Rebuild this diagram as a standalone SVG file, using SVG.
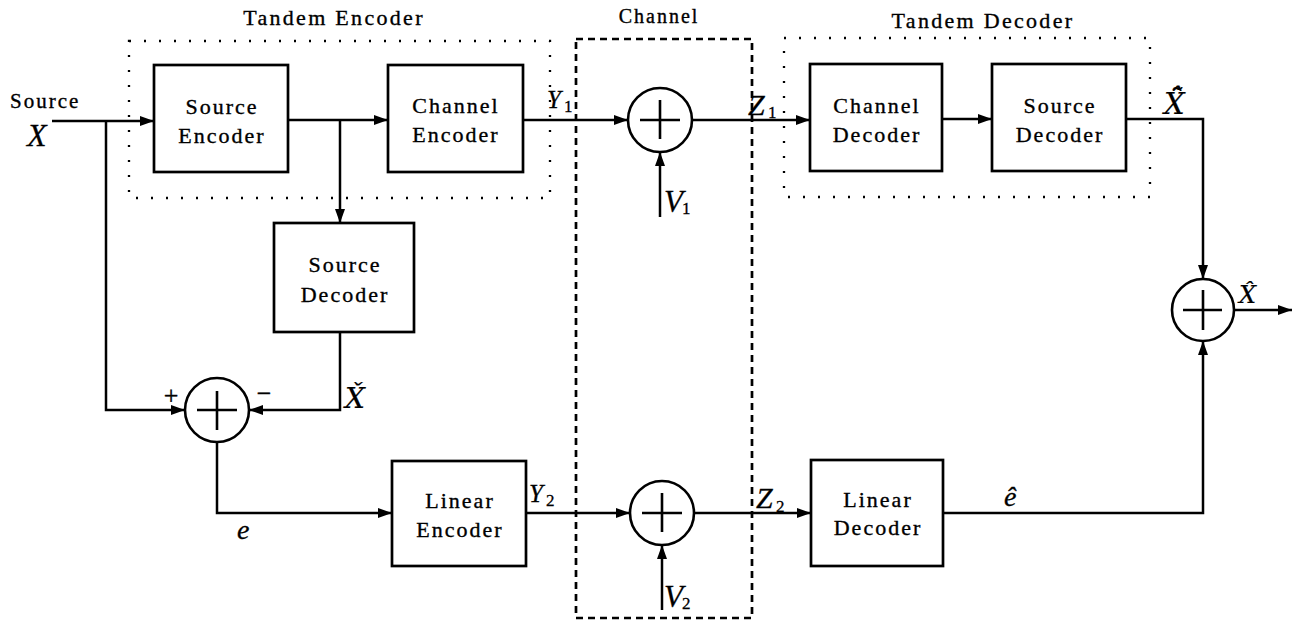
<svg xmlns="http://www.w3.org/2000/svg" width="1305" height="621" viewBox="0 0 1305 621">
<style>
.box{fill:#fff;stroke:#000;stroke-width:2.7}
.sum{fill:#fff;stroke:#000;stroke-width:2.6}
.plus{stroke:#000;stroke-width:2.6}
.wire{fill:none;stroke:#000;stroke-width:2.5}
.dot{fill:none;stroke:#000;stroke-width:2.3;stroke-dasharray:2 13}
.dash{fill:none;stroke:#000;stroke-width:2.7;stroke-dasharray:7 5}
.lbl{font-family:"Liberation Serif",serif;font-size:22px;letter-spacing:2px;fill:#000;stroke:#000;stroke-width:0.35;text-anchor:middle}
.ttl{font-family:"Liberation Serif",serif;font-size:22px;letter-spacing:2.3px;fill:#000;stroke:#000;stroke-width:0.35;text-anchor:middle}
.m{font-family:"Liberation Serif",serif;font-style:italic;fill:#000;stroke:#000;stroke-width:0.3}
.dj{font-family:"DejaVu Serif",serif;font-style:italic;fill:#000;stroke:#000;stroke-width:0.2}
.sub{font-family:"Liberation Serif",serif;fill:#000;stroke:#000;stroke-width:0.3;font-size:17px}
</style>
<defs>
<marker id="ah" markerUnits="userSpaceOnUse" markerWidth="14" markerHeight="10" refX="14" refY="5" orient="auto">
<path d="M0,0 L14,5 L0,10 z" fill="#000"/>
</marker>
</defs>
<rect width="1305" height="621" fill="#fff"/>

<g id="groups">
<rect class="dot" x="129" y="41" width="421" height="157"/>
<text class="ttl" x="334" y="25">Tandem Encoder</text>
<rect class="dot" x="784" y="38" width="366" height="159"/>
<text class="ttl" x="983" y="28">Tandem Decoder</text>
<rect class="dash" x="576" y="39" width="176" height="579"/>
<text class="lbl" x="659" y="23" style="font-size:20px">Channel</text>
</g>

<g id="connectors">
<polyline class="wire" points="52,121 154,121" marker-end="url(#ah)"/>
<polyline class="wire" points="106,121 106,410 185,410" marker-end="url(#ah)"/>
<polyline class="wire" points="288,120 388,120" marker-end="url(#ah)"/>
<polyline class="wire" points="340,120 340,223" marker-end="url(#ah)"/>
<polyline class="wire" points="340,332 340,410 249,410" marker-end="url(#ah)"/>
<polyline class="wire" points="523,120 628,120" marker-end="url(#ah)"/>
<polyline class="wire" points="692,120 810,120" marker-end="url(#ah)"/>
<polyline class="wire" points="942,119 992,119" marker-end="url(#ah)"/>
<polyline class="wire" points="1126,119 1203,119 1203,279" marker-end="url(#ah)"/>
<polyline class="wire" points="660,217 660,152" marker-end="url(#ah)"/>
<polyline class="wire" points="217,442 217,513 392,513" marker-end="url(#ah)"/>
<polyline class="wire" points="526,513 630,513" marker-end="url(#ah)"/>
<polyline class="wire" points="694,513 811,513" marker-end="url(#ah)"/>
<polyline class="wire" points="662,610 662,545" marker-end="url(#ah)"/>
<polyline class="wire" points="943,513 1203,513 1203,341" marker-end="url(#ah)"/>
<polyline class="wire" points="1234,310 1292,310" marker-end="url(#ah)"/>
</g>

<g id="source-encoder">
<rect class="box" x="154" y="65" width="134" height="107"/>
<text class="lbl" x="222" y="114">Source</text>
<text class="lbl" x="222" y="143">Encoder</text>
</g>
<g id="channel-encoder">
<rect class="box" x="388" y="65" width="135" height="107"/>
<text class="lbl" x="456" y="113">Channel</text>
<text class="lbl" x="456" y="142">Encoder</text>
</g>
<g id="source-decoder-mid">
<rect class="box" x="274" y="223" width="140" height="109"/>
<text class="lbl" x="345" y="272">Source</text>
<text class="lbl" x="345" y="302">Decoder</text>
</g>
<g id="channel-decoder">
<rect class="box" x="810" y="64" width="132" height="107"/>
<text class="lbl" x="877" y="113">Channel</text>
<text class="lbl" x="877" y="142">Decoder</text>
</g>
<g id="source-decoder">
<rect class="box" x="992" y="64" width="134" height="107"/>
<text class="lbl" x="1060" y="113">Source</text>
<text class="lbl" x="1060" y="142">Decoder</text>
</g>
<g id="linear-encoder">
<rect class="box" x="392" y="461" width="134" height="105"/>
<text class="lbl" x="460" y="508">Linear</text>
<text class="lbl" x="460" y="537">Encoder</text>
</g>
<g id="linear-decoder">
<rect class="box" x="811" y="460" width="132" height="106"/>
<text class="lbl" x="878" y="507">Linear</text>
<text class="lbl" x="878" y="535">Decoder</text>
</g>

<g id="adder-1">
<circle class="sum" cx="660" cy="120" r="32"/>
<line class="plus" x1="640" y1="120" x2="680" y2="120"/>
<line class="plus" x1="660" y1="100" x2="660" y2="139"/>
</g>
<g id="adder-2">
<circle class="sum" cx="662" cy="513" r="32"/>
<line class="plus" x1="642" y1="513" x2="682" y2="513"/>
<line class="plus" x1="662" y1="493" x2="662" y2="532"/>
</g>
<g id="subtractor">
<circle class="sum" cx="217" cy="410" r="32"/>
<line class="plus" x1="197" y1="410" x2="237" y2="410"/>
<line class="plus" x1="217" y1="391" x2="217" y2="430"/>
<text class="lbl" x="171" y="404" style="font-size:26px;letter-spacing:0">+</text>
<text class="lbl" x="264" y="402" style="font-size:26px;letter-spacing:0">−</text>
</g>
<g id="output-adder">
<circle class="sum" cx="1203" cy="310" r="31"/>
<line class="plus" x1="1183" y1="310" x2="1222" y2="310"/>
<line class="plus" x1="1203" y1="290" x2="1203" y2="330"/>
</g>

<g id="labels">
<text x="10" y="108" class="lbl" style="text-anchor:start;font-size:21px">Source</text>
<text class="m" x="27" y="146" font-size="32">X</text>
<text class="m" x="547" y="108" font-size="25">Y</text><text class="sub" x="564" y="112">1</text>
<text class="m" x="748" y="115" font-size="30">Z</text><text class="sub" x="768" y="118">1</text>
<text class="m" x="664" y="212" font-size="31">V</text><text class="sub" x="682" y="214">1</text>
<text class="dj" x="1164" y="114" font-size="29">X̃̂</text>
<text class="dj" x="1239" y="303" font-size="24">X̂</text>
<text class="dj" x="345" y="408" font-size="28">X̌</text>
<text class="m" x="529" y="502" font-size="25">Y</text><text class="sub" x="546" y="506">2</text>
<text class="m" x="756" y="508" font-size="30">Z</text><text class="sub" x="776" y="512">2</text>
<text class="m" x="664" y="607" font-size="31">V</text><text class="sub" x="682" y="609">2</text>
<text class="m" x="237" y="539" font-size="28">e</text>
<text class="m" x="1004" y="506" font-size="28">ê</text>
</g>
</svg>
